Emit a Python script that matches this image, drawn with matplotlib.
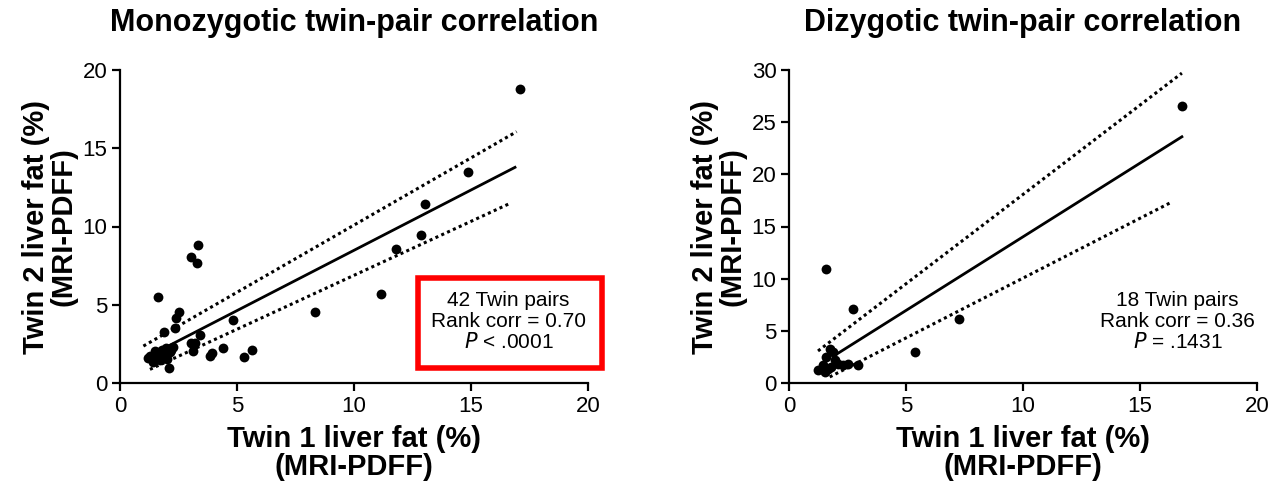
import matplotlib
matplotlib.use("Agg")
import matplotlib.pyplot as plt
from matplotlib.patches import Rectangle

plt.rcParams['font.family'] = ['Liberation Sans', 'DejaVu Sans']

# ---------------- Data ----------------
# Monozygotic twin pairs (42)
mz_twin1 = [17.09, 14.89, 13.03, 12.86, 11.78, 11.14, 8.35, 5.63, 5.31, 4.84,
            4.39, 3.92, 3.85, 3.32, 3.02, 3.28, 3.42, 3.20, 3.02, 3.10,
            2.52, 2.39, 2.36, 1.64, 1.89, 2.11,
            1.21, 1.42, 1.64, 1.78, 1.92, 2.06, 2.20, 2.28, 1.30, 1.55,
            1.70, 1.85, 2.00, 2.14, 1.48, 1.95]
mz_twin2 = [18.76, 13.50, 11.44, 9.46, 8.54, 5.67, 4.54, 2.11, 1.66, 4.03,
            2.24, 1.94, 1.73, 8.82, 8.07, 7.69, 3.05, 2.58, 2.58, 2.07,
            4.56, 4.17, 3.49, 5.47, 3.28, 0.94,
            1.58, 1.36, 1.90, 2.11, 1.68, 2.00, 2.11, 2.32, 1.75, 1.60,
            1.45, 1.85, 1.55, 1.95, 2.05, 2.25]
mz_fit_x = [2.06, 16.88]
mz_fit_y = [2.36, 13.78]
mz_upper_x = [1.00, 16.95]
mz_upper_y = [2.36, 16.06]
mz_lower_x = [1.28, 16.67]
mz_lower_y = [0.87, 11.48]
mz_text = ["42 Twin pairs", "Rank corr = 0.70", r"$\it{P}$ < .0001"]

# Dizygotic twin pairs (18)
dz_twin1 = [16.79, 1.57, 2.75, 7.25, 5.39, 2.93,
            1.24, 1.45, 1.60, 1.74, 1.88, 1.96, 2.10, 2.31, 2.52, 1.67, 1.53, 1.81]
dz_twin2 = [26.55, 10.88, 7.14, 6.18, 2.95, 1.76,
            1.22, 1.70, 2.50, 3.30, 2.97, 2.18, 1.86, 1.70, 1.86, 1.38, 1.06, 1.55]
dz_fit_x = [1.96, 16.79]
dz_fit_y = [2.66, 23.60]
dz_upper_x = [1.24, 16.79]
dz_upper_y = [3.07, 29.70]
dz_lower_x = [1.74, 16.29]
dz_lower_y = [0.58, 17.27]
dz_text = ["18 Twin pairs", "Rank corr = 0.36", r"$\it{P}$ = .1431"]

x_ticks = [0, 5, 10, 15, 20]
mz_y_ticks = [0, 5, 10, 15, 20]
dz_y_ticks = [0, 5, 10, 15, 20, 25, 30]

titles = ["Monozygotic twin-pair correlation", "Dizygotic twin-pair correlation"]
xlabel = "Twin 1 liver fat (%)\n(MRI-PDFF)"
ylabel = "Twin 2 liver fat (%)\n(MRI-PDFF)"

# ---------------- Figure ----------------
fig = plt.figure(figsize=(12.74, 4.87), dpi=100)
ax1 = fig.add_axes([120/1274, 104/487, 468/1274, 313/487])
ax2 = fig.add_axes([789/1274, 104/487, 468/1274, 313/487])

panels = [
    (ax1, mz_twin1, mz_twin2, mz_fit_x, mz_fit_y, mz_upper_x, mz_upper_y,
     mz_lower_x, mz_lower_y, mz_y_ticks, mz_text, titles[0]),
    (ax2, dz_twin1, dz_twin2, dz_fit_x, dz_fit_y, dz_upper_x, dz_upper_y,
     dz_lower_x, dz_lower_y, dz_y_ticks, dz_text, titles[1]),
]

for (ax, x, y, fx, fy, ux, uy, lx, ly, yt, txt, title) in panels:
    ax.scatter(x, y, s=50, color='black', zorder=3, linewidths=0)
    ax.plot(fx, fy, color='black', lw=2.0)
    ax.plot(ux, uy, color='black', lw=2.2, linestyle=(0, (1, 1.1)))
    ax.plot(lx, ly, color='black', lw=2.2, linestyle=(0, (1, 1.1)))
    ax.set_xlim(0, 20)
    ax.set_ylim(0, yt[-1])
    ax.set_xticks(x_ticks)
    ax.set_yticks(yt)
    for s in ['top', 'right']:
        ax.spines[s].set_visible(False)
    for s in ['left', 'bottom']:
        ax.spines[s].set_linewidth(1.6)
    ax.tick_params(direction='out', length=6, width=1.6, labelsize=16, pad=3)
    ax.set_xlabel(xlabel, fontsize=21, fontweight='bold', linespacing=1.0)
    ax.set_ylabel(ylabel, fontsize=21, fontweight='bold', linespacing=1.0)
    ax.xaxis.set_label_coords(0.5, -0.135)
    ax.yaxis.set_label_coords(-0.09, 0.5)
    fig.text((ax.get_position().x0 + ax.get_position().x1) / 2, 1 - 23/487, title,
             fontsize=22, fontweight='bold', ha='center', va='center')

for i, line in enumerate(mz_text):
    ax1.text(0.83, 0.265 - i * 0.067, line, transform=ax1.transAxes,
             ha='center', va='center', fontsize=15)
for i, line in enumerate(dz_text):
    ax2.text(0.83, 0.265 - i * 0.067, line, transform=ax2.transAxes,
             ha='center', va='center', fontsize=15)

# red highlight box around MZ statistics
ax1.add_patch(Rectangle((418/1274, 1 - 368/487), (602-418)/1274, (368-278)/487,
                        transform=fig.transFigure, fill=False, edgecolor='#ff0000',
                        lw=4, clip_on=False, zorder=5))

fig.savefig("out.png", dpi=100)
